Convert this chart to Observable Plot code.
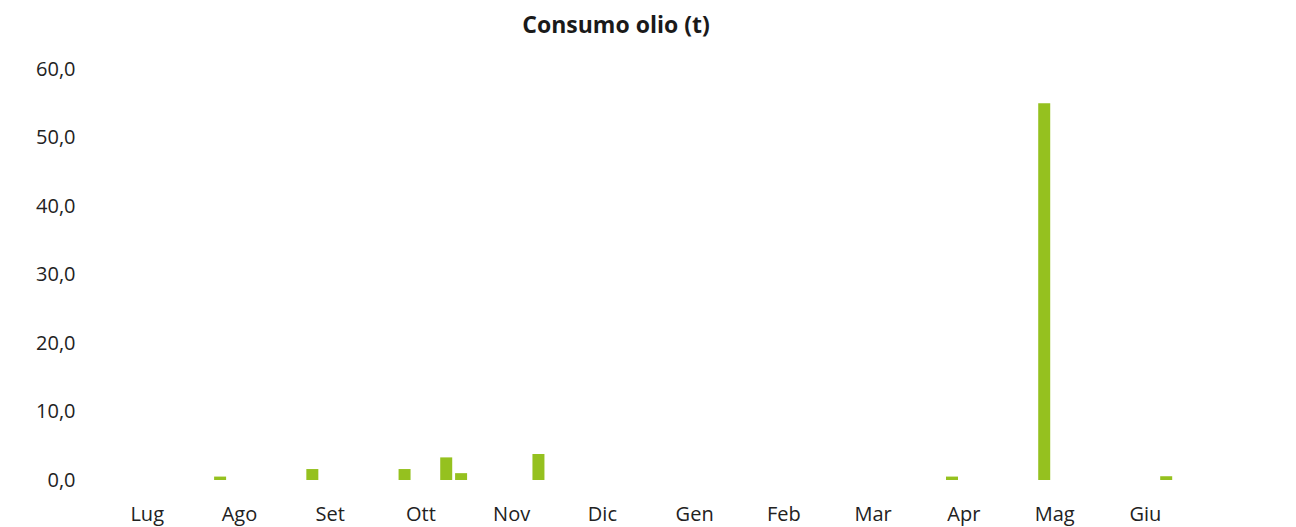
<!DOCTYPE html>
<html>
<head>
<meta charset="utf-8">
<script src="https://cdn.jsdelivr.net/npm/d3@7"></script>
<script src="https://cdn.jsdelivr.net/npm/@observablehq/plot@0.6"></script>
<style>
  html, body { margin: 0; padding: 0; background: #fff; }
  #title { width: 1232px; height: 46px; line-height: 48px; text-align: center;
    font-family: "Open Sans", sans-serif; font-weight: 700; font-size: 23px; color: #1a1a1a; }
</style>
</head>
<body>
<div id="title">Consumo olio (t)</div>
<div id="chart"></div>
<script>
const monthLabels = ["Lug","Ago","Set","Ott","Nov","Dic","Gen","Feb","Mar","Apr","Mag","Giu"];
const dates = ["2023-08-10","2023-09-10","2023-10-11","2023-10-25","2023-10-30","2023-11-25","2024-04-12","2024-05-13","2024-06-23"];
const values = [0.5, 1.6, 1.6, 3.3, 1.0, 3.8, 0.5, 55.0, 0.55];
const yTicks = [0, 10, 20, 30, 40, 50, 60];

const start = new Date("2023-07-01T00:00:00Z");
const end = new Date("2024-07-01T00:00:00Z");
const data = dates.map((d, i) => ({date: new Date(d + "T00:00:00Z"), value: values[i]}));
const mids = d3.utcMonths(start, end).map(m => new Date((+m + +d3.utcMonth.offset(m, 1)) / 2));

const chart = Plot.plot({
  width: 1296,
  height: 481,
  marginTop: 23,
  marginBottom: 47,
  marginLeft: 100.6,
  marginRight: 106.5,
  style: {fontFamily: "'Open Sans', sans-serif", fontSize: "20px", color: "#222", background: "#fff"},
  x: {type: "utc", domain: [start, end]},
  y: {domain: [0, 60]},
  marks: [
    Plot.ruleX(data, {x: "date", y1: 0, y2: "value", stroke: "#95c11f", strokeWidth: 12}),
    Plot.axisX({ticks: mids, tickFormat: d => monthLabels[(d.getUTCMonth() + 6) % 12], tickSize: 0, tickPadding: 26, fontSize: 20, label: null}),
    Plot.axisY({ticks: yTicks, tickFormat: d => d.toFixed(1).replace(".", ","), tickSize: 0, tickPadding: 25.6, fontSize: 20, label: null})
  ]
});
document.getElementById("chart").appendChild(chart);
</script>
</body>
</html>
